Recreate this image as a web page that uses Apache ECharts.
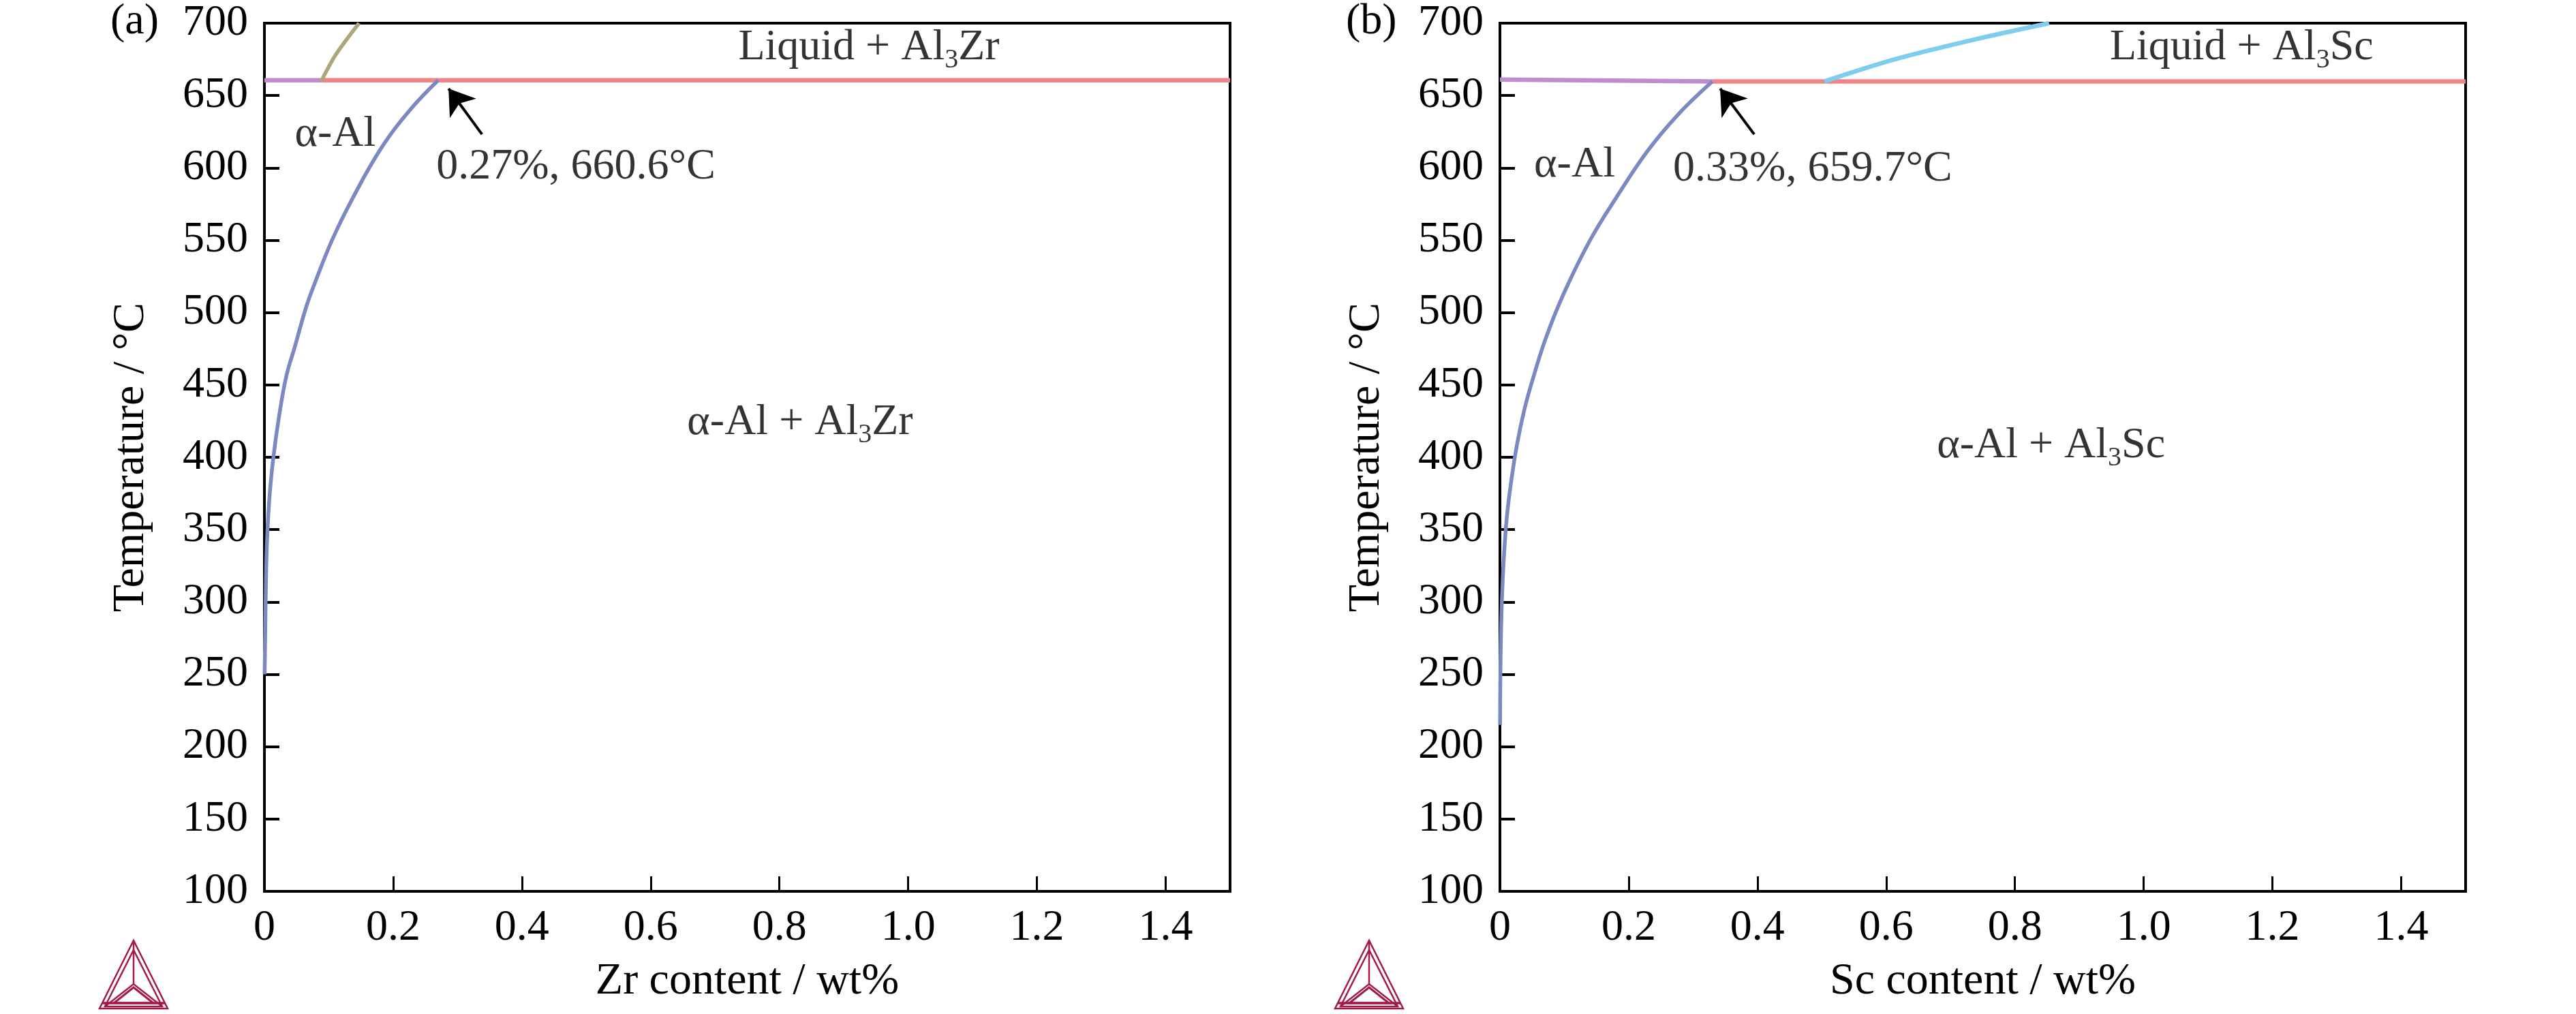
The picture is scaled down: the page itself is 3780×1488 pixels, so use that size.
<!DOCTYPE html>
<html>
<head>
<meta charset="utf-8">
<script src="https://cdn.jsdelivr.net/npm/echarts/dist/echarts.min.js"></script>
<style>
  html, body { margin: 0; padding: 0; background: #fff; }
  #chart { width: 3780px; height: 1488px; }
</style>
</head>
<body>
<div id="chart"></div>
<script>
// axis ranges (wt% and degC)
var xRange = [0, 1.5]
var xStep = 0.2
var tempRange = [100, 700]
var tempStep = 50

// (a) Al-Zr
var zrSolvus = [[0.0003, 250], [0.001, 269], [0.0025, 316], [0.0045, 347], [0.0085, 376], [0.0145, 402],
  [0.023, 429], [0.034, 456], [0.047, 476], [0.065, 504], [0.078, 520], [0.105, 550],
  [0.137, 579], [0.182, 614], [0.228, 641], [0.27, 660.6]]
var zrLiquidus = [[0.089, 660.6], [0.111, 678.3], [0.147, 700]]
var zrAlphaLiquid = [[0, 660.6], [0.089, 660.6]]
var zrPeritectic = [[0.089, 660.6], [1.5, 660.6]]
var zrArrow = [[0.338, 623.2], [0.286, 654.8]]

// (b) Al-Sc
var scSolvus = [[0.0002, 215], [0.0005, 240], [0.0013, 270], [0.003, 300], [0.006, 330], [0.011, 360],
  [0.018, 385], [0.027, 410], [0.038, 433], [0.049, 451], [0.071, 482], [0.1, 514], [0.14, 550],
  [0.18, 579], [0.229, 611.5], [0.277, 637], [0.33, 659.7]]
var scLiquidus = [[0.504, 659.8], [0.613, 675], [0.74, 689], [0.853, 700]]
var scAlphaLiquid = [[0, 661.0], [0.33, 659.7]]
var scEutectic = [[0.33, 659.7], [1.5, 659.7]]
var scArrow = [[0.395, 623.2], [0.342, 654.8]]

var FONT = "'Liberation Serif', 'Times New Roman', serif"
var LOGO = '#a3194b'

var panels = [
  {
    tag: '(a)', left: 388, xName: 'Zr content / wt%',
    solvus: zrSolvus, liquidus: zrLiquidus, liqColor: '#aea57a',
    alpha: zrAlphaLiquid, flat: zrPeritectic, arrow: zrArrow,
    notes: [
      { at: [0.939, 683], text: '{t|Liquid + Al}{s|3}{t|Zr}', align: 'center' },
      { at: [0.047, 623], text: '{t|α-Al}', align: 'left' },
      { at: [0.267, 600.6], text: '{t|0.27%, 660.6°C}', align: 'left' },
      { at: [0.832, 424], text: '{t|α-Al + Al}{s|3}{t|Zr}', align: 'center' }
    ]
  },
  {
    tag: '(b)', left: 2201, xName: 'Sc content / wt%',
    solvus: scSolvus, liquidus: scLiquidus, liqColor: '#7dcdef',
    alpha: scAlphaLiquid, flat: scEutectic, arrow: scArrow,
    notes: [
      { at: [1.152, 683], text: '{t|Liquid + Al}{s|3}{t|Sc}', align: 'center' },
      { at: [0.053, 602], text: '{t|α-Al}', align: 'left' },
      { at: [0.269, 599], text: '{t|0.33%, 659.7°C}', align: 'left' },
      { at: [0.856, 408], text: '{t|α-Al + Al}{s|3}{t|Sc}', align: 'center' }
    ]
  }
]

var rich = {
  t: { fontSize: 64, lineHeight: 76, fontFamily: FONT, color: '#000' },
  s: { fontSize: 40, lineHeight: 40, fontFamily: FONT, color: '#000', verticalAlign: 'bottom' }
}

function curve(data, color, width, i, smooth) {
  return {
    type: 'line', xAxisIndex: i, yAxisIndex: i, data: data,
    symbol: 'none', smooth: smooth, silent: true,
    lineStyle: { color: color, width: width }
  }
}

// thermo-calc style triangle mark in the lower left corner
function logo(cx) {
  var top = 1380, base = 1480, half = 50, cy = 1444
  var st = { fill: 'none', stroke: LOGO, lineWidth: 2.5 }
  return {
    type: 'group', silent: true,
    children: [
      { type: 'polygon', shape: { points: [[cx, top], [cx - half, base], [cx + half, base]] }, style: st },
      { type: 'polygon', shape: { points: [[cx, top + 14], [cx - half + 8, base - 3], [cx + half - 8, base - 3]] }, style: st },
      { type: 'polyline', shape: { points: [[cx, top], [cx, cy]] }, style: st },
      { type: 'polyline', shape: { points: [[cx - half + 8, base - 3], [cx, cy], [cx + half - 8, base - 3]] }, style: st },
      { type: 'polygon', shape: { points: [[cx, cy + 5], [cx - 29, base - 8], [cx + 29, base - 8]] }, style: { fill: 'none', stroke: LOGO, lineWidth: 3 } },
      { type: 'line', shape: { x1: cx - half + 4, y1: base - 8, x2: cx + half - 4, y2: base - 8 }, style: { stroke: LOGO, lineWidth: 3.5 } }
    ]
  }
}

var grids = [], xAxes = [], yAxes = [], series = [], graphics = []

panels.forEach(function (p, i) {
  grids.push({
    left: p.left, top: 34, width: 1417, height: 1274,
    show: true, borderColor: '#000', borderWidth: 4, backgroundColor: 'transparent'
  })
  xAxes.push({
    type: 'value', gridIndex: i, min: xRange[0], max: xRange[1], interval: xStep,
    name: p.xName, nameLocation: 'middle', nameGap: 100,
    nameTextStyle: { fontSize: 66, fontFamily: FONT, color: '#000' },
    axisLine: { onZero: false, lineStyle: { color: '#000', width: 4 } },
    axisTick: { inside: true, length: 22, lineStyle: { color: '#000', width: 3 } },
    axisLabel: {
      fontSize: 64, fontFamily: FONT, color: '#000', margin: 22, showMaxLabel: false,
      formatter: function (v) { return v === 0 ? '0' : v.toFixed(1) }
    },
    splitLine: { show: false }
  })
  yAxes.push({
    type: 'value', gridIndex: i, min: tempRange[0], max: tempRange[1], interval: tempStep,
    name: 'Temperature / °C', nameLocation: 'middle', nameGap: 162, nameRotate: 90,
    nameTextStyle: { fontSize: 66, fontFamily: FONT, color: '#000' },
    axisLine: { onZero: false, lineStyle: { color: '#000', width: 4 } },
    axisTick: { inside: true, length: 22, lineStyle: { color: '#000', width: 4 } },
    axisLabel: { fontSize: 64, fontFamily: FONT, color: '#000', margin: 24 },
    splitLine: { show: false }
  })

  series.push(curve(p.alpha, '#c18ccb', 6.5, i, false))
  series.push(curve(p.flat, '#ef8489', 6.5, i, false))
  series.push(curve(p.liquidus, p.liqColor, i === 0 ? 5.5 : 6.5, i, 0.3))
  series.push(curve(p.solvus, '#7b88c1', 5.5, i, 0.4))
  series.push({
    type: 'lines', coordinateSystem: 'cartesian2d', xAxisIndex: i, yAxisIndex: i,
    data: [{ coords: p.arrow }], symbol: ['none', 'arrow'], symbolSize: [30, 36],
    lineStyle: { color: '#000', width: 4, opacity: 1, curveness: 0 }, silent: true, z: 5
  })
  series.push({
    type: 'scatter', xAxisIndex: i, yAxisIndex: i, symbolSize: 0, silent: true,
    data: p.notes.map(function (n) {
      return {
        value: n.at,
        label: {
          show: true, position: [0, 0], align: n.align, verticalAlign: 'middle',
          color: '#000', formatter: n.text, rich: rich
        }
      }
    })
  })

  graphics.push({
    type: 'text', left: p.left - 226, top: 0, silent: true,
    style: { text: p.tag, fontSize: 64, fontFamily: FONT, fill: '#000', textVerticalAlign: 'top' }
  })
  graphics.push(logo(p.left - 192))
})

var chart = echarts.init(document.getElementById('chart'))
chart.setOption({
  animation: false,
  backgroundColor: '#fff',
  grid: grids,
  xAxis: xAxes,
  yAxis: yAxes,
  series: series,
  graphic: graphics
})
</script>
</body>
</html>
